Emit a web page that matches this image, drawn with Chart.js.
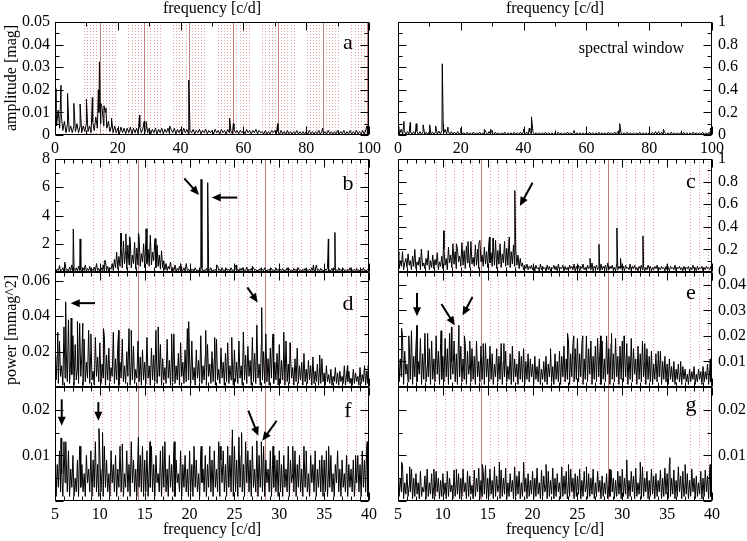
<!DOCTYPE html>
<html><head><meta charset="utf-8">
<script src="https://cdn.jsdelivr.net/npm/chart.js@4.4.1/dist/chart.umd.min.js"></script>
<style>
body{margin:0;background:#fff}
#wrap{position:relative;width:747px;height:541px;background:#fff}
#wrap canvas{position:absolute;left:0;top:0}
</style></head>
<body><div id="wrap"></div>
<script>
// ---------------- DATA ----------------
// tick labels
const xTicksWide = [0,20,40,60,80,100];
const xTicksNarrow = [5,10,15,20,25,30,35,40];
const yTicksA = [0,0.01,0.02,0.03,0.04,0.05];
const yTicksW = [0,0.2,0.4,0.6,0.8,1];
const yTicksB = [2,4,6,8];
const yTicksC = [0,0.2,0.4,0.6,0.8,1];
const yTicksD = [0.02,0.04,0.06];
const yTicksE = [0.01,0.02,0.03,0.04];
const yTicksF = [0.01,0.02];
const yTicksG = [0.01,0.02];

// reference frequencies (c/d)
const harmonics = [14.2,28.4,42.6,56.8,71.0,85.2,99.4];
const aliasOffsets = [-5,-4,-3,-2,-1,1,2,3,4,5];

// panel a: amplitude [mag], grid 0..100 step 0.5
const gridWideStart = 0, gridWideStep = 0.5;
const ampA = [
0.012,0.004,0.011,0.003,0.009,0.002,0.006,0.001,0.005,0.0015,0.004,0.001,0.004,0.0015,0.005,0.001,0.004,0.001,0.004,0.0015,
0.005,0.0015,0.004,0.001,0.006,0.002,0.008,0.003,0.010,0.005,0.012,0.004,0.010,0.003,0.006,0.0015,0.004,0.001,0.004,0.001,
0.003,0.0005,0.0035,0.001,0.003,0.0005,0.003,0.001,0.0035,0.0005,0.003,0.001,0.003,0.0005,0.0035,0.001,0.003,0.0005,0.003,0.001,
0.003,0.0005,0.0025,0.001,0.003,0.0005,0.0025,0.001,0.003,0.0005,0.0025,0.001,0.003,0.0005,0.0025,0.001,0.003,0.0005,0.0025,0.001,
0.0025,0.0005,0.003,0.001,0.0025,0.0005,0.002,0.001,0.0025,0.0005,0.002,0.001,0.0025,0.0005,0.002,0.001,0.0025,0.0005,0.002,0.001,
0.002,0.0005,0.0025,0.001,0.002,0.0005,0.0025,0.001,0.002,0.0005,0.0025,0.001,0.002,0.0005,0.0025,0.001,0.002,0.0005,0.002,0.001,
0.002,0.0005,0.0025,0.001,0.002,0.0005,0.002,0.001,0.0025,0.0005,0.002,0.001,0.0015,0.0005,0.002,0.0003,0.0015,0.0005,0.002,0.001,
0.002,0.0005,0.0015,0.0003,0.002,0.0005,0.0015,0.0003,0.002,0.0005,0.0015,0.0003,0.0015,0.0005,0.002,0.0003,0.0015,0.0005,0.0015,0.0003,
0.0015,0.0003,0.002,0.0005,0.0015,0.0003,0.0015,0.0005,0.002,0.0003,0.0015,0.0005,0.0015,0.0003,0.002,0.0005,0.0015,0.0003,0.0015,0.0005,
0.002,0.0003,0.0015,0.0005,0.002,0.0003,0.0015,0.0005,0.002,0.0003,0.0015,0.0005,0.002,0.0003,0.0015,0.0005,0.002,0.0003,0.0025,0.0005,
0.003];
const peaksA = [[0.3,0.0205],[1.9,0.022],[4.0,0.0184],[6.0,0.014],[8.0,0.0137],[10.0,0.0158],[11.9,0.0165],
[13.8,0.020],[14.15,0.0324],[14.6,0.014],[15.6,0.013],[16.2,0.012],[18.0,0.0074],[26.9,0.0088],[28.4,0.006],
[29.0,0.006],[36.5,0.004],[42.6,0.0243],[55.6,0.0074],[56.8,0.005],[70.9,0.005],[85.2,0.003],[99.4,0.004]];

// spectral window, grid 0..100 step 0.5
const win = [
0.06,0.01,0.05,0.008,0.04,0.006,0.03,0.005,0.03,0.006,0.03,0.005,0.035,0.006,0.03,0.005,0.03,0.006,0.025,0.005,
0.03,0.005,0.025,0.006,0.03,0.005,0.035,0.008,0.04,0.01,0.05,0.008,0.035,0.005,0.03,0.006,0.025,0.005,0.03,0.005,
0.025,0.004,0.02,0.005,0.025,0.004,0.02,0.005,0.025,0.004,0.02,0.005,0.025,0.004,0.02,0.005,0.025,0.004,0.03,0.005,
0.02,0.004,0.025,0.005,0.02,0.004,0.02,0.005,0.025,0.004,0.02,0.005,0.02,0.004,0.025,0.005,0.02,0.004,0.025,0.005,
0.03,0.005,0.025,0.006,0.03,0.005,0.025,0.004,0.02,0.005,0.02,0.004,0.02,0.005,0.025,0.004,0.02,0.005,0.02,0.004,
0.02,0.004,0.025,0.005,0.02,0.004,0.02,0.005,0.025,0.004,0.02,0.005,0.025,0.004,0.02,0.005,0.02,0.004,0.02,0.005,
0.02,0.004,0.025,0.005,0.02,0.004,0.02,0.005,0.025,0.004,0.02,0.005,0.02,0.004,0.025,0.005,0.02,0.004,0.025,0.005,
0.03,0.005,0.025,0.004,0.02,0.005,0.025,0.004,0.02,0.005,0.02,0.004,0.02,0.005,0.025,0.004,0.02,0.005,0.02,0.004,
0.02,0.005,0.025,0.004,0.03,0.005,0.03,0.004,0.025,0.005,0.02,0.004,0.02,0.005,0.025,0.004,0.02,0.005,0.02,0.004,
0.02,0.005,0.025,0.004,0.02,0.005,0.02,0.004,0.025,0.005,0.02,0.004,0.02,0.005,0.025,0.004,0.02,0.005,0.025,0.004,
0.03];
const peaksW = [[0.2,0.08],[1.9,0.12],[3.9,0.11],[5.8,0.10],[8.0,0.09],[10.1,0.09],[12.0,0.08],[14.1,0.63],
[14.4,0.10],[15.9,0.07],[20.0,0.06],[27.5,0.05],[29.5,0.05],[40.0,0.05],[41.8,0.06],[42.5,0.16],[56.0,0.04],
[70.6,0.10],[84.5,0.05],[99.5,0.06]];

// panels b-g: power [mmag^2], grid 5..40 step 0.125
const gridNarrowStart = 5, gridNarrowStep = 0.125;
const powB = [
.3,.05,.2,.1,.45,.05,.15,.3,.05,.6,.1,.2,.05,.35,.1,.5,.05,.2,.1,.3,.05,.4,.1,.15,.05,.3,.1,.5,.05,.25,.1,.4,.05,.2,.1,.35,.05,.6,.1,.25,
.05,.3,.1,.5,.05,.8,.1,.4,.05,.3,.2,.6,.1,.9,.3,1.4,.2,1.1,.4,1.8,.3,2.2,.6,1.5,.2,1.9,.5,2.4,.3,1.2,.6,2.1,.2,1.7,.5,2.5,.4,1.3,.7,2.0,
.3,2.3,.6,1.6,.4,2.6,.5,1.4,.8,2.2,.3,1.9,.4,1.2,.2,1.5,.3,.8,.15,.6,.1,.4,.2,.7,.05,.3,.1,.5,.05,.25,.1,.4,.05,.2,.1,.3,.05,.6,.1,.2,
.05,.25,.1,.2,.05,.3,.1,.15,.05,.2,.1,.3,.05,.15,.1,.25,.05,.2,.1,.3,.05,.15,.1,.2,.05,.45,.1,.2,.05,.3,.1,.15,.05,.25,.1,.2,.05,.3,.1,.15,
.05,.4,.1,.2,.05,.25,.1,.3,.05,.15,.1,.35,.05,.2,.1,.25,.05,.3,.1,.2,.05,.15,.1,.25,.05,.2,.1,.3,.05,.15,.1,.2,.05,.25,.1,.15,.05,.3,.1,.2,
.05,.2,.1,.25,.05,.15,.1,.3,.05,.2,.1,.15,.05,.25,.1,.2,.05,.3,.1,.15,.05,.2,.1,.25,.05,.15,.1,.2,.05,.3,.1,.15,.05,.5,.1,.2,.05,.25,.1,.15,
.05,.2,.1,.3,.05,.15,.1,.25,.05,.2,.1,.15,.05,.3,.1,.2,.05,.25,.1,.15,.05,.2,.1,.3,.05,.15,.1,.2,.05,.25,.1,.15,.05,.2,.1,.3,.05,.15,.1,.2,
.1];
const peaksB = [[6.1,0.7],[7.04,3.04],[7.8,2.34],[10.5,0.8],[12.36,2.76],[12.9,2.7],[13.3,2.5],[14.3,2.76],
[15.15,3.06],[16.15,2.36],[19.0,0.6],[21.28,6.56],[22.02,6.32],[23.0,0.5],[25.2,0.5],[27.0,0.4],[33.8,0.5],
[35.47,2.34],[36.2,2.8]];

const powC = [
.15,.03,.1,.05,.18,.02,.08,.12,.04,.16,.06,.1,.02,.14,.05,.2,.03,.09,.06,.13,.02,.17,.05,.08,.03,.12,.06,.19,.02,.1,.04,.15,.03,.11,.06,.17,.02,.09,.05,.14,
.03,.2,.06,.12,.02,.22,.08,.15,.04,.25,.07,.18,.03,.21,.09,.14,.05,.26,.06,.19,.03,.23,.08,.16,.04,.27,.07,.13,.05,.24,.06,.2,.03,.28,.09,.15,.05,.22,.07,.18,
.04,.26,.08,.17,.05,.23,.06,.28,.03,.19,.07,.25,.04,.16,.08,.27,.05,.21,.06,.29,.04,.18,.07,.24,.05,.2,.06,.15,.03,.12,.05,.08,.02,.06,.03,.07,.02,.05,.03,.06,
.02,.05,.01,.06,.03,.04,.01,.07,.02,.05,.03,.04,.01,.06,.02,.05,.01,.04,.03,.06,.02,.05,.01,.07,.02,.04,.03,.06,.01,.05,.02,.04,.01,.06,.03,.05,.02,.07,.01,.05,
.02,.06,.01,.05,.03,.07,.02,.04,.01,.06,.03,.05,.02,.08,.01,.05,.03,.06,.02,.04,.01,.07,.02,.05,.03,.06,.01,.08,.02,.05,.03,.06,.02,.04,.01,.07,.02,.05,.03,.06,
.02,.05,.01,.06,.03,.04,.02,.07,.01,.05,.03,.06,.02,.04,.01,.05,.03,.06,.02,.05,.01,.04,.02,.06,.03,.05,.01,.04,.02,.05,.03,.06,.01,.04,.02,.05,.03,.04,.01,.05,
.02,.04,.01,.05,.03,.04,.02,.06,.01,.04,.03,.05,.02,.04,.01,.05,.02,.04,.03,.05,.01,.04,.02,.06,.03,.04,.01,.05,.02,.04,.03,.05,.01,.04,.02,.05,.03,.04,.02,.05,
.04];
const peaksC = [[5.1,0.18],[7.6,0.2],[10.1,0.365],[11.5,0.25],[12.8,0.27],[14.0,0.25],[15.2,0.31],[15.6,0.3],
[17.4,0.31],[18.02,0.72],[26.4,0.12],[27.4,0.245],[29.4,0.39],[29.8,0.12],[32.3,0.32],[35.0,0.07]];

const powD = [
.031,.004,.018,.002,.026,.006,.012,.001,.034,.005,.021,.003,.038,.002,.015,.007,.029,.001,.024,.004,.011,.002,.036,.006,.019,.001,.027,.003,.014,.005,.032,.002,.022,.004,.009,.001,.028,.006,.017,.003,
.025,.002,.013,.005,.029,.001,.018,.004,.022,.003,.011,.006,.031,.002,.016,.004,.024,.001,.014,.005,.027,.003,.012,.002,.02,.006,.033,.001,.015,.004,.023,.002,.01,.005,.026,.003,.017,.001,.021,.004,
.014,.002,.028,.005,.012,.001,.022,.004,.018,.003,.032,.002,.013,.006,.024,.001,.016,.004,.011,.002,.027,.005,.015,.001,.02,.003,.03,.002,.012,.004,.019,.001,.025,.006,.014,.002,.021,.003,.033,.004,
.017,.002,.026,.004,.011,.001,.021,.005,.015,.003,.029,.002,.012,.004,.018,.001,.024,.006,.013,.002,.02,.003,.016,.001,.027,.004,.01,.002,.022,.005,.014,.001,.019,.003,.025,.002,.012,.004,.017,.001,
.021,.003,.014,.002,.026,.005,.012,.001,.031,.004,.018,.002,.023,.006,.015,.001,.028,.003,.019,.002,.034,.005,.013,.001,.024,.004,.02,.002,.03,.003,.016,.001,.022,.005,.027,.002,.014,.004,.019,.001,
.024,.002,.015,.004,.02,.001,.026,.003,.013,.002,.018,.005,.011,.001,.016,.003,.022,.002,.012,.004,.014,.001,.019,.003,.01,.002,.015,.004,.012,.001,.017,.002,.009,.003,.013,.001,.011,.002,.016,.003,
.008,.001,.012,.003,.007,.002,.01,.001,.006,.003,.011,.002,.008,.001,.009,.003,.006,.002,.012,.001,.007,.003,.009,.002,.005,.001,.01,.002,.008,.003,.006,.001,.011,.002,.007,.003,.012,.001,.009,.002,
.013];
const peaksD = [[5.3,0.031],[6.19,0.0481],[6.8,0.039],[7.5,0.037],[8.1,0.036],[9.0,0.030],[10.4,0.033],[12.1,0.032],
[13.5,0.032],[16.5,0.034],[18.0,0.030],[19.9,0.037],[21.8,0.032],[22.8,0.028],[24.7,0.028],[26.0,0.030],
[27.5,0.035],[28.04,0.0449],[29.3,0.030],[30.5,0.031],[31.2,0.025],[34.5,0.018],[37.6,0.012],[39.9,0.012]];

const powE = [
.018,.002,.011,.004,.02,.001,.014,.005,.009,.002,.017,.003,.022,.001,.012,.004,.016,.002,.01,.005,.019,.001,.013,.003,.021,.002,.008,.004,.015,.001,.018,.003,.011,.002,.02,.005,.014,.001,.017,.003,
.012,.002,.019,.004,.015,.001,.021,.003,.01,.005,.018,.002,.013,.001,.02,.004,.016,.002,.011,.003,.017,.001,.014,.005,.009,.002,.015,.003,.012,.001,.018,.004,.01,.002,.016,.003,.013,.001,.017,.004,
.011,.002,.016,.003,.013,.001,.009,.004,.015,.002,.012,.003,.017,.001,.01,.004,.014,.002,.008,.003,.013,.001,.016,.002,.011,.004,.009,.001,.014,.003,.012,.002,.015,.001,.01,.003,.013,.002,.011,.004,
.009,.001,.012,.003,.008,.002,.011,.001,.007,.003,.01,.002,.012,.001,.009,.004,.011,.002,.008,.001,.013,.003,.01,.002,.014,.001,.012,.004,.016,.002,.011,.003,.018,.001,.013,.004,.017,.002,.015,.003,
.019,.002,.013,.004,.017,.001,.011,.003,.02,.002,.015,.005,.018,.001,.012,.003,.016,.002,.019,.004,.014,.001,.018,.003,.011,.002,.02,.005,.015,.001,.017,.003,.013,.002,.019,.004,.012,.001,.016,.003,
.018,.002,.014,.004,.017,.001,.012,.003,.019,.002,.015,.005,.011,.001,.016,.003,.013,.002,.018,.004,.01,.001,.015,.003,.012,.002,.014,.001,.009,.003,.013,.002,.011,.004,.014,.001,.01,.003,.012,.002,
.009,.001,.011,.003,.008,.002,.01,.001,.007,.003,.009,.002,.006,.001,.008,.003,.007,.002,.005,.001,.007,.002,.006,.003,.008,.001,.005,.002,.007,.003,.006,.001,.008,.002,.006,.003,.009,.001,.007,.002,
.01];
const peaksE = [[5.4,0.023],[6.2,0.020],[7.12,0.0241],[8.3,0.021],[9.8,0.022],[10.96,0.0235],[11.78,0.0242],
[12.4,0.020],[13.0,0.018],[14.5,0.017],[16.8,0.017],[22.0,0.015],[23.9,0.021],[24.6,0.020],[25.6,0.020],
[27.6,0.020],[28.8,0.021],[30.2,0.020],[31.0,0.019],[32.5,0.017],[34.0,0.014],[36.5,0.010],[39.8,0.011]];

const powF = [
.012,.001,.008,.003,.011,.002,.006,.001,.013,.004,.009,.002,.011,.001,.007,.003,.01,.001,.005,.002,.009,.001,.012,.003,.008,.002,.006,.001,.01,.004,.007,.002,.011,.001,.009,.003,.013,.002,.008,.001,
.01,.002,.007,.001,.012,.003,.009,.002,.006,.001,.011,.004,.008,.002,.01,.001,.007,.003,.012,.002,.009,.001,.006,.003,.011,.002,.008,.001,.013,.004,.009,.002,.007,.001,.011,.003,.01,.002,.012,.001,
.009,.002,.011,.001,.007,.003,.012,.002,.008,.001,.01,.004,.006,.002,.011,.001,.009,.003,.013,.002,.007,.001,.01,.003,.008,.002,.012,.001,.009,.004,.006,.002,.011,.001,.008,.003,.01,.002,.007,.001,
.01,.002,.008,.001,.012,.003,.009,.002,.006,.001,.011,.004,.007,.002,.01,.001,.008,.003,.012,.002,.009,.001,.011,.003,.007,.002,.013,.001,.009,.004,.011,.002,.008,.001,.012,.003,.01,.002,.014,.001,
.012,.002,.009,.001,.014,.003,.01,.002,.008,.001,.013,.004,.011,.002,.009,.001,.012,.003,.007,.002,.011,.001,.01,.003,.008,.002,.012,.001,.009,.004,.007,.002,.011,.001,.008,.003,.01,.002,.009,.001,
.011,.002,.008,.001,.01,.003,.007,.002,.012,.001,.009,.004,.006,.002,.011,.001,.008,.003,.01,.002,.007,.001,.012,.003,.009,.002,.006,.001,.01,.004,.008,.002,.011,.001,.007,.003,.009,.002,.01,.001,
.009,.002,.011,.001,.007,.003,.01,.002,.006,.001,.008,.004,.011,.002,.007,.001,.009,.003,.006,.002,.01,.001,.008,.003,.007,.002,.009,.001,.006,.004,.01,.002,.008,.001,.011,.003,.009,.002,.012,.001,
.013];
const peaksF = [[5.67,0.0138],[6.2,0.013],[7.8,0.012],[9.9,0.0159],[10.3,0.015],[12.5,0.0125],[14.3,0.014],
[15.6,0.013],[17.0,0.012],[18.3,0.013],[20.0,0.011],[21.3,0.012],[23.4,0.012],[24.77,0.0156],[25.8,0.015],
[27.5,0.0132],[28.0,0.013],[29.3,0.012],[31.5,0.012],[33.0,0.011],[35.5,0.012],[38.5,0.010],[39.8,0.013]];

const powG = [
.007,.001,.005,.002,.008,.0005,.004,.0015,.006,.001,.0035,.002,.007,.0005,.005,.001,.006,.0015,.004,.0005,.0065,.001,.003,.002,.0055,.0005,.007,.001,.004,.0015,.006,.0005,.0035,.001,.0065,.002,.005,.0005,.0045,.001,
.006,.0015,.004,.0005,.0065,.001,.005,.002,.0035,.0005,.0068,.001,.0045,.0015,.006,.0005,.005,.001,.007,.002,.004,.0005,.0065,.001,.0055,.0015,.0035,.0005,.0068,.001,.005,.002,.0072,.0005,.0045,.001,.0065,.0015,.0078,.0005,
.005,.001,.007,.0015,.0045,.0005,.0075,.001,.0055,.002,.0035,.0005,.0068,.001,.005,.0015,.0072,.0005,.004,.001,.006,.002,.0045,.0005,.0075,.001,.0055,.0015,.0065,.0005,.004,.001,.007,.002,.005,.0005,.006,.001,.0045,.0015,
.0065,.0005,.005,.001,.0072,.0015,.004,.0005,.0068,.001,.0055,.002,.0035,.0005,.0065,.001,.0045,.0015,.0072,.0005,.005,.001,.006,.002,.004,.0005,.0075,.001,.0055,.0015,.0065,.0005,.0045,.001,.007,.002,.005,.0005,.006,.001,
.0055,.0015,.007,.0005,.0045,.001,.0065,.002,.0035,.0005,.006,.001,.005,.0015,.007,.0005,.004,.001,.0065,.002,.0045,.0005,.0055,.001,.004,.0015,.006,.0005,.0035,.001,.0068,.002,.005,.0005,.0045,.001,.0065,.0015,.0055,.0005,
.007,.001,.005,.0015,.0078,.0005,.0045,.001,.0065,.002,.0055,.0005,.0072,.001,.004,.0015,.006,.0005,.0075,.001,.005,.002,.0065,.0005,.0045,.001,.007,.0015,.0055,.0005,.006,.001,.0045,.002,.0068,.0005,.005,.001,.0072,.0015,
.006,.0005,.0082,.001,.005,.0015,.0068,.0005,.0045,.001,.0075,.002,.0055,.0005,.0065,.001,.004,.0015,.006,.0005,.0045,.001,.007,.002,.005,.0005,.0055,.001,.004,.0015,.0065,.0005,.005,.001,.0068,.002,.0055,.0005,.0072,.001,
.008];
const peaksG = [[5.4,0.0085],[6.3,0.0075],[9.0,0.007],[11.5,0.007],[14.4,0.008],[16.3,0.0085],[19.0,0.0085],
[21.5,0.008],[24.0,0.008],[26.0,0.0075],[28.6,0.007],[30.5,0.009],[32.0,0.0085],[35.3,0.0095],[37.0,0.008],[39.8,0.008]];

// arrows: [x1,y1,x2,y2] in data units of each panel
const arrowsB = [[19.41,6.63,21.05,5.46],[25.32,5.27,22.47,5.27]];
const arrowsC = [[20.0,0.79,18.58,0.584]];
const arrowsD = [[9.46,0.0474,6.75,0.0474],[26.44,0.0563,27.6,0.0478]];
const arrowsE = [[7.12,0.0368,7.12,0.0277],[9.84,0.0325,11.33,0.0241],[13.30,0.0352,12.19,0.028]];
const arrowsF = [[5.75,0.0223,5.75,0.0165],[9.83,0.0217,9.83,0.0176],[26.55,0.0198,27.66,0.0143],[29.71,0.0176,28.11,0.0132]];

// ---------------- RENDER ----------------
const FONT = "'Liberation Serif','Times New Roman',serif";
const SOLID_COLOR = '#c08080';
const DOT_COLOR = '#e79a9a';
const W = 747, H = 541;
const YW_LEFT = 50, YW_RIGHT = 35, XH = 25;

function buildSeries(start, step, grid, peaks) {
  const pts = grid.map((v, i) => ({x: +(start + i * step).toFixed(4), y: v}));
  peaks.forEach(p => pts.push({x: p[0], y: p[1]}));
  pts.sort((a, b) => a.x - b.x);
  return pts;
}
function aliasLines(maxF) {
  const out = [];
  harmonics.forEach(h => aliasOffsets.forEach(o => { const f = +(h + o).toFixed(2); if (f > 0 && f < maxF) out.push(f); }));
  return out;
}
function drawArrow(ctx, x1, y1, x2, y2) {
  const ang = Math.atan2(y2 - y1, x2 - x1), L = 9, Wd = 4;
  const c = Math.cos(ang), s = Math.sin(ang);
  ctx.lineWidth = 2;
  ctx.beginPath(); ctx.moveTo(x1, y1); ctx.lineTo(x2 - L * 0.7 * c, y2 - L * 0.7 * s); ctx.stroke();
  ctx.beginPath(); ctx.moveTo(x2, y2);
  ctx.lineTo(x2 - L * c + Wd * s, y2 - L * s - Wd * c);
  ctx.lineTo(x2 - L * c - Wd * s, y2 - L * s + Wd * c);
  ctx.closePath(); ctx.fill();
}

function makePlugin(cfg) {
  return {
    id: 'panel_' + cfg.name,
    beforeDatasetsDraw(chart) {
      const {ctx, chartArea: a} = chart, x = chart.scales.x;
      ctx.save();
      ctx.beginPath(); ctx.rect(a.left, a.top, a.right - a.left, a.bottom - a.top); ctx.clip();
      ctx.lineWidth = 1;
      if (cfg.dotted) {
        ctx.strokeStyle = DOT_COLOR; ctx.setLineDash([1, 2]);
        cfg.dotted.forEach(f => { const px = Math.round(x.getPixelForValue(f)) + 0.5;
          ctx.beginPath(); ctx.moveTo(px, a.top); ctx.lineTo(px, a.bottom); ctx.stroke(); });
        ctx.setLineDash([]);
      }
      if (cfg.solid) {
        ctx.strokeStyle = SOLID_COLOR;
        cfg.solid.forEach(f => { if (f <= x.min || f >= x.max) return; const px = Math.round(x.getPixelForValue(f)) + 0.5;
          ctx.beginPath(); ctx.moveTo(px, a.top); ctx.lineTo(px, a.bottom); ctx.stroke(); });
      }
      ctx.restore();
    },
    afterDatasetsDraw(chart) {
      const {ctx, chartArea: a} = chart, x = chart.scales.x, y = chart.scales.y;
      ctx.save();
      ctx.strokeStyle = '#000'; ctx.fillStyle = '#000'; ctx.lineWidth = 1;
      const l = Math.round(a.left) + 0.5, r = Math.round(a.right) - 0.5, t = Math.round(a.top) + 0.5, b = Math.round(a.bottom) - 0.5;
      ctx.strokeRect(l, t, r - l, b - t);
      const MAJ = 8, MIN = 4;
      const nx = Math.floor((cfg.xmax - cfg.xmin) / cfg.xMinor + 1e-6);
      ctx.beginPath();
      for (let i = 0; i <= nx; i++) {
        const v = cfg.xmin + i * cfg.xMinor;
        const isMaj = Math.abs(v / cfg.xMajor - Math.round(v / cfg.xMajor)) < 1e-6;
        const len = isMaj ? MAJ : MIN;
        const px = Math.round(x.getPixelForValue(v)) + 0.5;
        ctx.moveTo(px, b); ctx.lineTo(px, b - len);
        ctx.moveTo(px, t); ctx.lineTo(px, t + len);
      }
      const ny = Math.floor((cfg.ymax - cfg.ymin) / cfg.yMinor + 1e-6);
      for (let i = 0; i <= ny; i++) {
        const v = cfg.ymin + i * cfg.yMinor;
        const isMaj = Math.abs(v / cfg.yMajor - Math.round(v / cfg.yMajor)) < 1e-6;
        const len = isMaj ? MAJ : MIN;
        const py = Math.round(y.getPixelForValue(v)) + 0.5;
        ctx.moveTo(l, py); ctx.lineTo(l + len, py);
        ctx.moveTo(r, py); ctx.lineTo(r - len, py);
      }
      ctx.stroke();
      if (cfg.letter) {
        ctx.font = '22px ' + FONT; ctx.textAlign = 'center'; ctx.textBaseline = 'alphabetic';
        ctx.fillText(cfg.letter, a.right - 21, a.top + cfg.letterDy);
      }
      if (cfg.note) {
        ctx.font = '16px ' + FONT; ctx.textAlign = 'right'; ctx.textBaseline = 'alphabetic';
        ctx.fillText(cfg.note, a.right - 28, a.top + 31);
      }
      (cfg.arrows || []).forEach(ar => drawArrow(ctx, x.getPixelForValue(ar[0]), y.getPixelForValue(ar[1]),
        x.getPixelForValue(ar[2]), y.getPixelForValue(ar[3])));
      ctx.font = '16px ' + FONT; ctx.textBaseline = 'alphabetic';
      if (cfg.topTitle) { ctx.textAlign = 'center'; ctx.fillText(cfg.topTitle, (a.left + a.right) / 2, 13); }
      if (cfg.bottomTitle) { ctx.textAlign = 'center'; ctx.fillText(cfg.bottomTitle, (a.left + a.right) / 2, 533.5); }
      if (cfg.yTitle) {
        ctx.save(); ctx.translate(16, cfg.yTitleY); ctx.rotate(-Math.PI / 2);
        ctx.textAlign = 'center'; ctx.fillText(cfg.yTitle, 0, 0); ctx.restore();
      }
      ctx.restore();
    }
  };
}

function makePanel(cfg) {
  const wrap = document.getElementById('wrap');
  const cv = document.createElement('canvas');
  cv.width = W; cv.height = H; cv.style.width = W + 'px'; cv.style.height = H + 'px';
  wrap.appendChild(cv);
  const tickFont = {family: FONT, size: 16};
  const left = cfg.yPos === 'left';
  new Chart(cv, {
    type: 'line',
    data: {datasets: [{data: cfg.data, borderColor: '#000', borderWidth: 1, pointRadius: 0, tension: 0, fill: false}]},
    options: {
      responsive: false, animation: false, devicePixelRatio: 1, events: [],
      layout: {padding: {left: left ? cfg.L - YW_LEFT : cfg.L, right: left ? W - cfg.R : W - cfg.R - YW_RIGHT,
                         top: cfg.T, bottom: H - cfg.B - XH}},
      plugins: {legend: {display: false}, tooltip: {enabled: false}},
      scales: {
        x: {type: 'linear', position: 'bottom', min: cfg.xmin, max: cfg.xmax,
            grid: {display: false, drawTicks: false}, border: {display: false},
            ticks: {display: !!cfg.xLabels, font: tickFont, color: '#000', padding: 4, maxRotation: 0, minRotation: 0, autoSkip: false,
                    callback: v => String(v)},
            afterBuildTicks: s => { s.ticks = (cfg.xLabels || []).map(v => ({value: v})); },
            afterFit: s => { s.height = XH; }},
        y: {type: 'linear', position: cfg.yPos, min: cfg.ymin, max: cfg.ymax,
            grid: {display: false, drawTicks: false}, border: {display: false},
            ticks: {display: true, font: tickFont, color: '#000', padding: left ? 5 : 6, autoSkip: false,
                    callback: v => String(v)},
            afterBuildTicks: s => { s.ticks = cfg.yLabels.map(v => ({value: v})); },
            afterFit: s => { s.width = left ? YW_LEFT : YW_RIGHT; }}
      }
    },
    plugins: [makePlugin(cfg)]
  });
}

const narrowAliases = aliasLines(40);
const wideAliases = aliasLines(100);

makePanel({name: 'a', L: 55, R: 369, T: 22, B: 135, xmin: 0, xmax: 100, xMajor: 20, xMinor: 10, xLabels: xTicksWide,
  yPos: 'left', ymin: 0, ymax: 0.05, yMajor: 0.01, yMinor: 0.005, yLabels: yTicksA,
  data: buildSeries(gridWideStart, gridWideStep, ampA, peaksA), solid: harmonics, dotted: wideAliases,
  letter: 'a', letterDy: 27, topTitle: 'frequency [c/d]', yTitle: 'amplitude [mag]', yTitleY: 78});
makePanel({name: 'w', L: 398, R: 712, T: 22, B: 135, xmin: 0, xmax: 100, xMajor: 20, xMinor: 10, xLabels: xTicksWide,
  yPos: 'right', ymin: 0, ymax: 1, yMajor: 0.2, yMinor: 0.1, yLabels: yTicksW,
  data: buildSeries(gridWideStart, gridWideStep, win, peaksW),
  note: 'spectral window', topTitle: 'frequency [c/d]'});
makePanel({name: 'b', L: 55, R: 369, T: 159, B: 272, xmin: 5, xmax: 40, xMajor: 5, xMinor: 1,
  yPos: 'left', ymin: 0, ymax: 8, yMajor: 2, yMinor: 1, yLabels: yTicksB,
  data: buildSeries(gridNarrowStart, gridNarrowStep, powB, peaksB), solid: harmonics, dotted: narrowAliases,
  letter: 'b', letterDy: 31, arrows: arrowsB});
makePanel({name: 'c', L: 398, R: 712, T: 159, B: 272, xmin: 5, xmax: 40, xMajor: 5, xMinor: 1,
  yPos: 'right', ymin: 0, ymax: 1, yMajor: 0.2, yMinor: 0.1, yLabels: yTicksC,
  data: buildSeries(gridNarrowStart, gridNarrowStep, powC, peaksC), solid: harmonics, dotted: narrowAliases,
  letter: 'c', letterDy: 29, arrows: arrowsC});
makePanel({name: 'd', L: 55, R: 369, T: 272, B: 387, xmin: 5, xmax: 40, xMajor: 5, xMinor: 1,
  yPos: 'left', ymin: 0, ymax: 0.065, yMajor: 0.02, yMinor: 0.01, yLabels: yTicksD,
  data: buildSeries(gridNarrowStart, gridNarrowStep, powD, peaksD), solid: harmonics, dotted: narrowAliases,
  letter: 'd', letterDy: 38, arrows: arrowsD, yTitle: 'power [mmag^2]', yTitleY: 330});
makePanel({name: 'e', L: 398, R: 712, T: 272, B: 387, xmin: 5, xmax: 40, xMajor: 5, xMinor: 1,
  yPos: 'right', ymin: 0, ymax: 0.045, yMajor: 0.01, yMinor: 0.005, yLabels: yTicksE,
  data: buildSeries(gridNarrowStart, gridNarrowStep, powE, peaksE), solid: harmonics, dotted: narrowAliases,
  letter: 'e', letterDy: 27, arrows: arrowsE});
makePanel({name: 'f', L: 55, R: 369, T: 387, B: 501, xmin: 5, xmax: 40, xMajor: 5, xMinor: 1, xLabels: xTicksNarrow,
  yPos: 'left', ymin: 0, ymax: 0.025, yMajor: 0.01, yMinor: 0.005, yLabels: yTicksF,
  data: buildSeries(gridNarrowStart, gridNarrowStep, powF, peaksF), solid: harmonics, dotted: narrowAliases,
  letter: 'f', letterDy: 30, arrows: arrowsF, bottomTitle: 'frequency [c/d]'});
makePanel({name: 'g', L: 398, R: 712, T: 387, B: 501, xmin: 5, xmax: 40, xMajor: 5, xMinor: 1, xLabels: xTicksNarrow,
  yPos: 'right', ymin: 0, ymax: 0.025, yMajor: 0.01, yMinor: 0.005, yLabels: yTicksG,
  data: buildSeries(gridNarrowStart, gridNarrowStep, powG, peaksG), solid: harmonics, dotted: narrowAliases,
  letter: 'g', letterDy: 24, bottomTitle: 'frequency [c/d]'});
</script>
</body></html>
